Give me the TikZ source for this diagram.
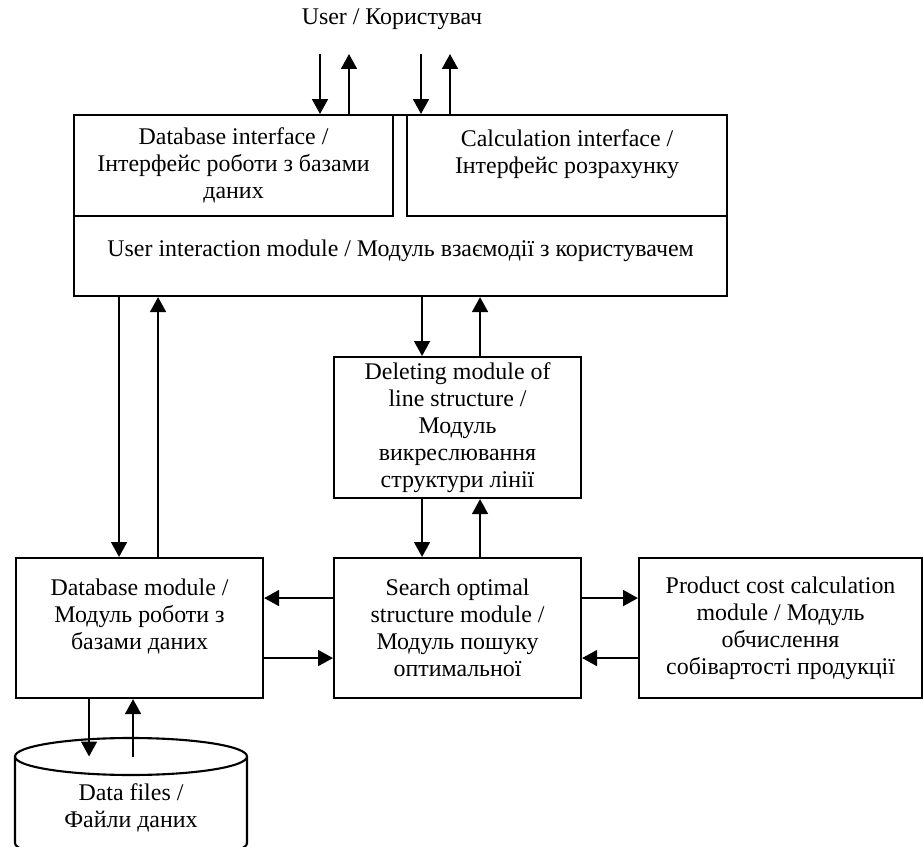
\documentclass[tikz,border=0pt]{standalone}
\usepackage{fontspec}
\setmainfont{Liberation Serif}
\usetikzlibrary{arrows.meta}

\begin{document}
\begin{tikzpicture}[
        font=\fontsize{13.6pt}{15.4pt}\selectfont,
        box/.style={draw, line width=1.2pt, align=center, inner sep=0pt},
        arr/.style={line width=1.2pt, -{Triangle[length=8.5pt,width=9pt]}}
    ]
                \useasboundingbox (0,0) rectangle (18.46,-16.94);
                \clip (0,0) rectangle (18.46,-16.94);

                \node (user) at (7.84,-0.38) {User / Користувач};

                \node[box, anchor=north west, minimum width=13.06cm, minimum height=3.62cm] (uim) at (1.46,-2.28) {};
                \node (uimtext) at ([yshift=-0.91cm]uim.center) {User interaction module / Модуль взаємодії з користувачем};
                \node[box, anchor=north west, minimum width=6.38cm, minimum height=2.02cm] (dbi) at (uim.north west)
                    {Database interface /\\ Інтерфейс роботи з базами\\ даних};
                \node[box, anchor=north east, minimum width=6.40cm, minimum height=2.02cm] (calc) at (uim.north east)
                    {Calculation interface /\\ Інтерфейс розрахунку\\ \mbox{}};

                \node[box, anchor=north west, minimum width=4.94cm, minimum height=2.82cm] (del) at (6.66,-7.12)
                    {Deleting module of\\ line structure /\\ Модуль\\ викреслювання\\ структури лінії};
                \node[box, anchor=north west, minimum width=4.94cm, minimum height=2.80cm] (search) at (6.66,-11.14)
                    {Search optimal\\ structure module /\\ Модуль пошуку\\ оптимальної};
                \node[box, anchor=north west, minimum width=4.94cm, minimum height=2.80cm] (dbm) at (0.30,-11.14)
                    {Database module /\\ Модуль роботи з\\ базами даних\\ \mbox{}};
                \node[box, anchor=north west, minimum width=5.66cm, minimum height=2.80cm] (prod) at (12.76,-11.14)
                    {Product cost calculation\\ module / Модуль\\ обчислення\\ собівартості продукції};

                \coordinate (dbtop) at (2.62,-15.13);
                \draw[line width=1.2pt] (dbtop) ellipse[x radius=2.32, y radius=0.37];
                \draw[line width=1.2pt] ([xshift=-2.32cm]dbtop) -- ++(0,-1.73)
                    arc[start angle=180, end angle=360, x radius=2.32, y radius=0.37] -- ([xshift=2.32cm]dbtop);
                \node[align=center] (files) at (2.62,-16.16) {Data files /\\ Файли даних};

                \coordinate (in1) at (6.40,-1.08);
                \coordinate (out1) at (6.98,-1.08);
                \coordinate (in2) at (8.42,-1.08);
                \coordinate (out2) at (9.00,-1.08);
                \draw[arr] (in1) -- (in1 |- dbi.north);
                \draw[arr] (out1 |- dbi.north) -- (out1);
                \draw[arr] (in2) -- (in2 |- calc.north);
                \draw[arr] (out2 |- calc.north) -- (out2);

                \draw[arr] ([xshift=-0.41cm]dbm.north |- uim.south) -- ([xshift=-0.41cm]dbm.north);
                \draw[arr] ([xshift=0.37cm]dbm.north) -- ([xshift=0.37cm]dbm.north |- uim.south);
                \draw[arr] ([xshift=-0.71cm]del.north |- uim.south) -- ([xshift=-0.71cm]del.north);
                \draw[arr] ([xshift=0.45cm]del.north) -- ([xshift=0.45cm]del.north |- uim.south);
                \draw[arr] ([xshift=-0.71cm]del.south) -- ([xshift=-0.71cm]search.north);
                \draw[arr] ([xshift=0.45cm]search.north) -- ([xshift=0.45cm]del.south);

                \draw[arr] ([yshift=0.6cm]search.west) -- ([yshift=0.6cm]dbm.east);
                \draw[arr] ([yshift=-0.6cm]dbm.east) -- ([yshift=-0.6cm]search.west);
                \draw[arr] ([yshift=0.6cm]search.east) -- ([yshift=0.6cm]prod.west);
                \draw[arr] ([yshift=-0.6cm]prod.west) -- ([yshift=-0.6cm]search.east);

                \draw[arr] ([xshift=-1.01cm]dbm.south) -- ([xshift=-1.01cm]dbm.south |- dbtop);
                \draw[arr] ([xshift=-0.13cm]dbm.south |- dbtop) -- ([xshift=-0.13cm]dbm.south);
\end{tikzpicture}
\end{document}
